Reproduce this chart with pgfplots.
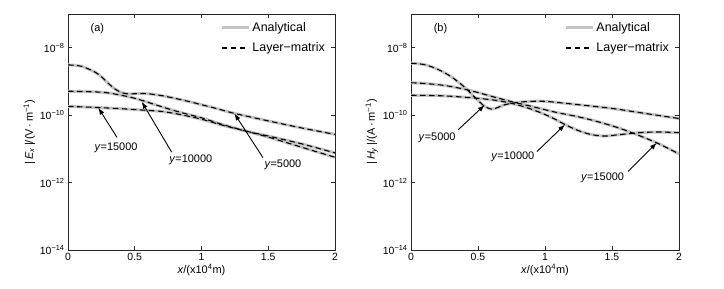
\documentclass[border=0pt]{standalone}
\usepackage{pgfplots}
\usepackage{pgfplotstable}
\pgfplotsset{compat=1.18}
\usepackage{fontspec}
\setmainfont{Liberation Sans}
\usetikzlibrary{arrows.meta}
\definecolor{anagray}{RGB}{196,196,196}

% ---------- panel (a): |Ex| ----------
\pgfplotstableread{
x y
0 3.09e-9
0.1 2.82e-9
0.2 1.91e-9
0.25 1.38e-9
0.3 8.91e-10
0.35 6.03e-10
0.4 4.68e-10
0.45 4.27e-10
0.5 4.32e-10
0.55 4.37e-10
0.6 4.32e-10
0.7 3.80e-10
0.8 3.16e-10
0.9 2.57e-10
1.0 2.04e-10
1.1 1.62e-10
1.25 1.12e-10
1.5 6.76e-11
1.75 4.17e-11
2.0 2.69e-11
}\Eafive
\pgfplotstableread{
x y
0 5.13e-10
0.2 4.90e-10
0.3 4.57e-10
0.4 3.89e-10
0.5 3.16e-10
0.6 2.40e-10
0.7 1.78e-10
0.8 1.35e-10
0.9 1.05e-10
1.0 8.32e-11
1.15 5.37e-11
1.34 3.31e-11
1.5 2.24e-11
1.75 1.12e-11
2.0 5.62e-12
}\Eaten
\pgfplotstableread{
x y
0 1.82e-10
0.2 1.70e-10
0.4 1.55e-10
0.6 1.38e-10
0.7 1.29e-10
0.8 1.12e-10
0.9 9.33e-11
1.0 7.59e-11
1.15 5.13e-11
1.34 3.31e-11
1.5 2.40e-11
1.75 1.41e-11
2.0 7.59e-12
}\Eafifteen

% ---------- panel (b): |Hy| ----------
\pgfplotstableread{
x y
0 3.47e-9
0.1 3.16e-9
0.2 2.29e-9
0.3 1.38e-9
0.4 6.76e-10
0.45 4.27e-10
0.5 2.75e-10
0.55 1.82e-10
0.6 1.51e-10
0.65 1.70e-10
0.7 2.04e-10
0.8 2.40e-10
0.9 2.57e-10
1.0 2.57e-10
1.13 2.29e-10
1.25 2.04e-10
1.5 1.58e-10
1.75 1.12e-10
2.0 7.94e-11
}\Hbfive
\pgfplotstableread{
x y
0 3.89e-10
0.25 3.72e-10
0.5 3.16e-10
0.65 2.69e-10
0.75 2.24e-10
0.85 1.74e-10
0.95 1.26e-10
1.05 8.51e-11
1.15 5.25e-11
1.25 3.47e-11
1.35 2.63e-11
1.45 2.40e-11
1.55 2.63e-11
1.7 3.02e-11
1.85 3.16e-11
2.0 3.02e-11
}\Hbten
\pgfplotstableread{
x y
0 9.12e-10
0.1 8.71e-10
0.25 7.59e-10
0.4 5.89e-10
0.5 4.68e-10
0.6 3.63e-10
0.75 2.51e-10
0.9 1.82e-10
1.0 1.45e-10
1.1 1.17e-10
1.25 8.91e-11
1.4 6.31e-11
1.55 4.17e-11
1.7 2.51e-11
1.85 1.41e-11
2.0 7.08e-12
}\Hbfifteen

\tikzset{
  anastyle/.style={draw=anagray, line width=3bp, smooth},
  lmstyle/.style={draw=black, line width=1.1bp, dash pattern=on 5.5bp off 3.5bp, smooth},
  annarrow/.style={-{Latex[length=7bp,width=5bp]}, line width=0.9bp, black},
  annlabel/.style={font=\fontsize{11}{13}\selectfont},
}

\begin{document}
\begin{tikzpicture}
\useasboundingbox (0,0) rectangle (724bp,289bp);

\begin{axis}[ymode=log, scale only axis, height=236bp, width=267bp,
    at={(68bp,39bp)}, anchor=south west,
    xmin=0, xmax=2, ymin=1e-14, ymax=1e-7,
    xtick={0,0.5,1,1.5,2}, xticklabels={0,0.5,1,1.5,2},
    ytick={1e-14,1e-12,1e-10,1e-8},
    yticklabels={10\textsuperscript{−14},10\textsuperscript{−12},10\textsuperscript{−10},10\textsuperscript{−8}},
    yminorticks=false, xminorticks=false,
    xtick pos=both, ytick pos=both,
    tick align=inside, major tick length=4bp,
    axis line style={line width=0.8bp, black!85},
    major tick style={line width=0.8bp, black!85},
    tick label style={font=\fontsize{10.5}{12}\selectfont},
    label style={font=\fontsize{11}{13}\selectfont},
    xlabel={\textit{x}/(x10\textsuperscript{4}m)},
    xlabel style={yshift=4bp},
    ylabel={|\,\textit{E}\textsubscript{\textit{x}}\,|/(V\,·\,m\textsuperscript{−1})},
    ylabel style={yshift=-2bp},
    legend style={at={(1,1)}, anchor=north east, xshift=-6bp, yshift=-4bp,
      draw=none, fill=none, font=\fontsize{12.5}{14}\selectfont, row sep=6bp,
      inner sep=2bp},
    legend cell align=left,
    legend image code/.code={\draw[#1] (0bp,0bp) -- (27bp,0bp);},
  ]
\addplot[anastyle] table[x=x,y=y] {\Eafive};
\addlegendentry{Analytical}
\addplot[anastyle, forget plot] table[x=x,y=y] {\Eaten};
\addplot[anastyle, forget plot] table[x=x,y=y] {\Eafifteen};
\addplot[lmstyle] table[x=x,y=y] {\Eafive};
\addlegendentry{Layer−matrix}
\addplot[lmstyle, forget plot] table[x=x,y=y] {\Eaten};
\addplot[lmstyle, forget plot] table[x=x,y=y] {\Eafifteen};
\node[annlabel] at (axis cs:0.22,3.8e-8) {(a)};
\draw[annarrow] (axis cs:0.367,2.19e-11) -- (axis cs:0.227,1.66e-10);
\node[annlabel] at (axis cs:0.36,1.10e-11) {\textit{y}=15000};
\draw[annarrow] (axis cs:0.777,7.94e-12) -- (axis cs:0.552,2.51e-10);
\node[annlabel] at (axis cs:0.92,4.79e-12) {\textit{y}=10000};
\draw[annarrow] (axis cs:1.46,5.50e-12) -- (axis cs:1.246,1.12e-10);
\node[annlabel] at (axis cs:1.61,3.39e-12) {\textit{y}=5000};
\end{axis}

\begin{axis}[ymode=log, scale only axis, height=236bp, width=268bp,
    at={(411bp,39bp)}, anchor=south west,
    xmin=0, xmax=2, ymin=1e-14, ymax=1e-7,
    xtick={0,0.5,1,1.5,2}, xticklabels={0,0.5,1,1.5,2},
    ytick={1e-14,1e-12,1e-10,1e-8},
    yticklabels={10\textsuperscript{−14},10\textsuperscript{−12},10\textsuperscript{−10},10\textsuperscript{−8}},
    yminorticks=false, xminorticks=false,
    xtick pos=both, ytick pos=both,
    tick align=inside, major tick length=4bp,
    axis line style={line width=0.8bp, black!85},
    major tick style={line width=0.8bp, black!85},
    tick label style={font=\fontsize{10.5}{12}\selectfont},
    label style={font=\fontsize{11}{13}\selectfont},
    xlabel={\textit{x}/(x10\textsuperscript{4}m)},
    xlabel style={yshift=4bp},
    ylabel={|\,\textit{H}\textsubscript{\textit{y}}\,|/(A\,·\,m\textsuperscript{−1})},
    ylabel style={yshift=-2bp},
    legend style={at={(1,1)}, anchor=north east, xshift=-6bp, yshift=-4bp,
      draw=none, fill=none, font=\fontsize{12.5}{14}\selectfont, row sep=6bp,
      inner sep=2bp},
    legend cell align=left,
    legend image code/.code={\draw[#1] (0bp,0bp) -- (27bp,0bp);},
  ]
\addplot[anastyle] table[x=x,y=y] {\Hbfive};
\addlegendentry{Analytical}
\addplot[anastyle, forget plot] table[x=x,y=y] {\Hbten};
\addplot[anastyle, forget plot] table[x=x,y=y] {\Hbfifteen};
\addplot[lmstyle] table[x=x,y=y] {\Hbfive};
\addlegendentry{Layer−matrix}
\addplot[lmstyle, forget plot] table[x=x,y=y] {\Hbten};
\addplot[lmstyle, forget plot] table[x=x,y=y] {\Hbfifteen};
\node[annlabel] at (axis cs:0.22,3.8e-8) {(b)};
\draw[annarrow] (axis cs:0.353,3.72e-11) -- (axis cs:0.55,2.0e-10);
\node[annlabel] at (axis cs:0.195,2.19e-11) {\textit{y}=5000};
\draw[annarrow] (axis cs:0.94,8.32e-12) -- (axis cs:1.149,5.25e-11);
\node[annlabel] at (axis cs:0.76,5.89e-12) {\textit{y}=10000};
\draw[annarrow] (axis cs:1.62,2.14e-12) -- (axis cs:1.834,1.51e-11);
\node[annlabel] at (axis cs:1.43,1.41e-12) {\textit{y}=15000};
\end{axis}
\end{tikzpicture}
\end{document}
